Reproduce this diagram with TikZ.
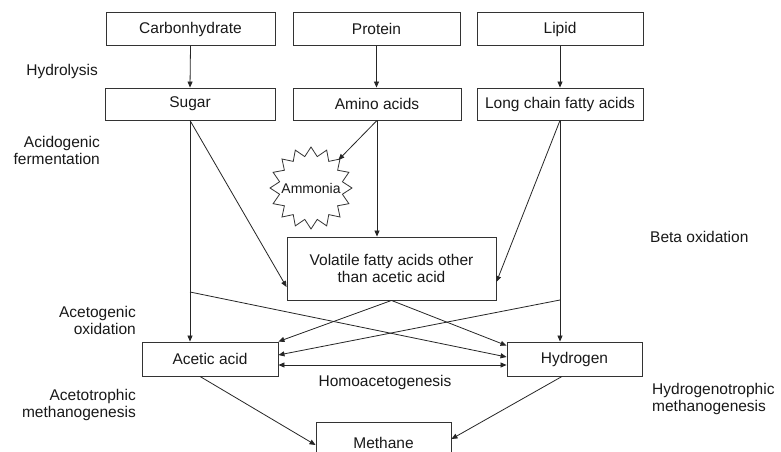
\documentclass[tikz,border=0pt]{standalone}
\usepackage{fontspec}
\setmainfont{Liberation Sans}
\usetikzlibrary{arrows.meta}
\begin{document}
\begin{tikzpicture}[x=1pt,y=-1pt,
  txt/.style={font=\fontsize{15.5}{17}\selectfont, text=black!90},
  box/.style={txt, draw=black!80, line width=0.9pt, minimum height=33pt, inner sep=0pt, align=center},
  lbl/.style={txt, inner sep=0pt},
  conn/.style={draw=black!85, line width=0.8pt, -{Triangle[length=6pt,width=5pt]}},
  burst/.style={draw=black!80, line width=0.8pt}
]
\clip (0,0) rectangle (781,452);
\fill[white] (0,0) rectangle (781,452);

% boxes
\node[box, minimum width=169pt] (carb) at (190.5,29) {Carbonhydrate};
\node[box, minimum width=167pt] (prot) at (376.5,29) {Protein};
\node[box, minimum width=166pt] (lipid) at (560,29) {Lipid};
\node[box, minimum width=170pt, minimum height=32pt] (sugar) at (190,104) {Sugar};
\node[box, minimum width=168pt, minimum height=32pt] (amino) at (377,104) {Amino acids};
\node[box, minimum width=166pt, minimum height=32pt] (lcfa) at (560,104) {Long chain fatty acids};
\node[box, minimum width=209pt, minimum height=63pt] (vfa) at (391.5,268.5) {Volatile fatty acids other\\than acetic acid};
\node[box, minimum width=136pt, minimum height=34pt] (acetic) at (210,359) {Acetic acid};
\node[box, minimum width=135pt, minimum height=34pt] (hydro) at (574.5,359) {Hydrogen};
\node[box, minimum width=135pt, minimum height=42pt] (meth) at (383.5,443) {Methane};

% ammonia starburst
\node[circle, minimum size=78pt, inner sep=0pt, font=\fontsize{14}{16}\selectfont, text=black!90] (amm) at (311,188) {Ammonia};
\draw[burst, shift={(amm.center)}] (90:41pt)
  \foreach \i in {1,...,31} { -- ({90+\i*11.25}:{36.5pt+4.5pt*cos(\i*180)}) } -- cycle;

% labels
\node[lbl, anchor=east] (l1) at (98,71) {Hydrolysis};
\node[lbl, anchor=east, align=right] (l2) at (100,150) {Acidogenic\\fermentation};
\node[lbl, anchor=east, align=right] (l3) at (136,320.5) {Acetogenic\\oxidation};
\node[lbl, anchor=east, align=right] (l4) at (136,405) {Acetotrophic\\methanogenesis};
\node[lbl, anchor=west] (l5) at (650,237) {Beta oxidation};
\node[lbl, anchor=west, align=left] (l6) at (652,398.5) {Hydrogenotrophic\\methanogenesis};
\node[lbl] (l7) at (385,382) {Homoacetogenesis};

% hydrolysis
\draw[conn] (carb.south) -- (sugar.north);
\draw[conn] (prot.south) -- (prot.south |- amino.north);
\draw[conn] (lipid.south) -- (lcfa.north);

% acidogenic
\draw[conn] (amino.south) -- (amm);
\draw[conn] (amino.south) -- (amino.south |- vfa.north);
\draw[conn] (sugar.south) -- ([yshift=-18.5pt]vfa.west);
\draw[conn] (lcfa.south) -- ([yshift=-13.5pt]vfa.east);
\draw[conn] (sugar.south) -- (sugar.south |- acetic.north);
\draw[conn] (lcfa.south) -- (lcfa.south |- hydro.north);

% branches
\coordinate (sb) at (190,292);
\coordinate (lb) at (560,300);
\draw[conn] (sb) -- ([yshift=2pt]hydro.west);
\draw[conn] (lb) -- ([yshift=4pt]acetic.east);
\draw[conn] (vfa.south) -- (acetic.north east);
\draw[conn] (vfa.south) -- ([yshift=-4pt]hydro.north west);
\draw[draw=black!85, line width=0.8pt, {Triangle[length=6pt,width=5pt]}-{Triangle[length=6pt,width=5pt]}]
  ([yshift=-6pt]acetic.east) -- ([yshift=-6pt]hydro.west);

% methanogenesis
\draw[conn] ([xshift=-10pt]acetic.south) -- ([yshift=-2pt]meth.west);
\draw[conn] ([xshift=-12.5pt]hydro.south) -- ([yshift=4pt]meth.east);
\end{tikzpicture}
\end{document}
